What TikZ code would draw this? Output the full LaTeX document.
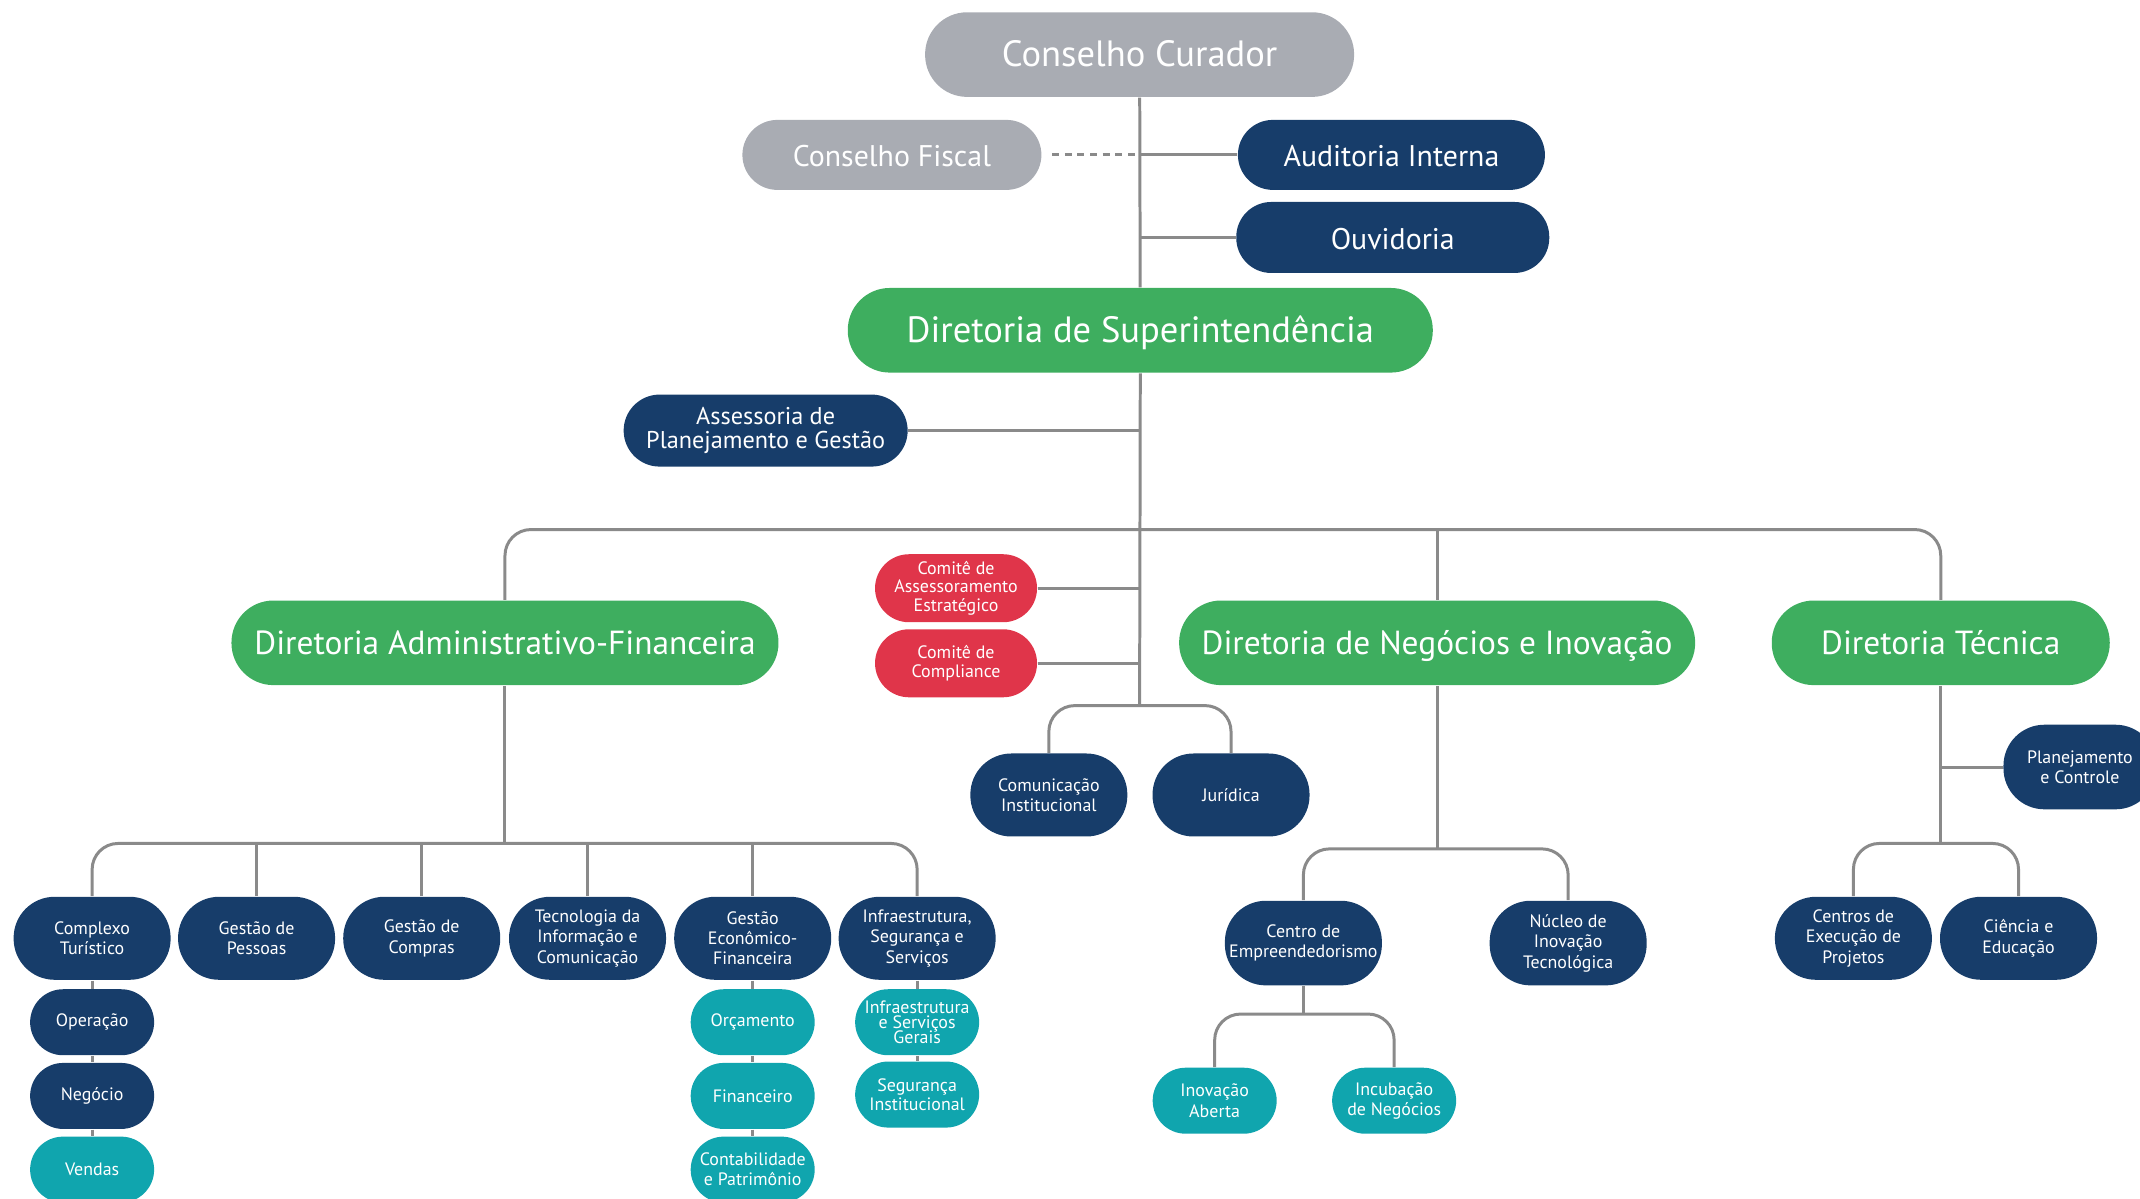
\documentclass[tikz,border=0pt]{standalone}
\usepackage{fontspec}
\setmainfont{PT Sans}
\definecolor{cgray}{HTML}{A9ACB3}
\definecolor{navy}{HTML}{173D6A}
\definecolor{cgreen}{HTML}{3EAE5F}
\definecolor{cred}{HTML}{E0354A}
\definecolor{teal}{HTML}{10A5AE}
\definecolor{lgray}{HTML}{8A8A8A}
\begin{document}
\begin{tikzpicture}[x=0.13648mm, y=-0.13648mm,
    pill/.style ={rectangle, text=white, align=center, inner sep=0pt},
    lead/.style ={pill, minimum height=8.46mm, rounded corners=4.2mm, text height=0.68em, text depth=0em, font=\fontsize{10.4}{12}\selectfont},
    dir/.style ={lead, fill=cgreen, font=\fontsize{9.5}{11}\selectfont},
    side/.style ={pill, minimum height=7mm, rounded corners=3.5mm, text height=0.68em, text depth=0em, font=\fontsize{8.5}{10}\selectfont},
    apg/.style ={pill, minimum height=7.2mm, rounded corners=3.6mm, font={\fontsize{6.9}{7}\selectfont\lineskiplimit=-5pt}},
    comite/.style ={pill, fill=cred, minimum width=16.2mm, minimum height=6.8mm, rounded corners=3.4mm, font={\fontsize{5.1}{5.3}\selectfont\lineskiplimit=-5pt}},
    unit/.style ={pill, fill=navy, minimum width=15.7mm, minimum height=8.3mm, rounded corners=4.1mm, font={\fontsize{5.1}{5.8}\selectfont\lineskiplimit=-5pt}},
    sub/.style ={pill, minimum width=12.4mm, minimum height=6.6mm, rounded corners=3.3mm, font={\fontsize{5.1}{5.7}\selectfont\lineskiplimit=-5pt}},
    conn/.style ={draw=lgray, line width=0.85pt, rounded corners=2.6mm}]
   \useasboundingbox (0,0) rectangle (1568,878.5);
   % top of the chart
   \node[lead, fill=cgray, minimum width=42.9mm] (cc) at (835,40) {Conselho Curador};
   \node[side, fill=cgray, minimum width=29.9mm] (cf) at (653.5,113.5) {Conselho Fiscal};
   \node[side, fill=navy, minimum width=30.7mm] (ai) at (1019.5,113.5) {Auditoria Interna};
   \node[side, fill=navy, minimum width=31.3mm, minimum height=7.1mm] (ov) at (1020.5,174) {Ouvidoria};
   \node[lead, fill=cgreen, minimum width=58.5mm] (ds) at (835.5,242) {Diretoria de Superintendência};
   \node[apg, fill=navy, minimum width=28.4mm] (apg) at (561,315.5) {Assessoria de\\Planejamento e Gestão};
   \node[comite] (cae) at (700.5,431) {Comitê de\\Assessoramento\\Estratégico};
   \node[comite] (cco) at (700.5,486) {Comitê de\\Compliance};
   % diretorias
   \node[dir, minimum width=54.7mm] (daf) at (370,471) {Diretoria Administrativo-Financeira};
   \node[dir, minimum width=51.6mm] (dni) at (1053,471) {Diretoria de Negócios e Inovação};
   \node[dir, minimum width=33.8mm] (dt) at (1422,471) {Diretoria Técnica};
   \node[unit] (ci) at (768.5,582.5) {Comunicação\\Institucional};
   \node[unit] (ju) at (902,582.5) {Jurídica};
   \node[unit, minimum width=15.3mm, minimum height=8.46mm] (pc) at (1524,562) {Planejamento\\e Controle};
   % administrativo-financeira
   \node[unit] (ct) at (67.5,687.5) {Complexo\\Turístico};
   \node[unit] (gp) at (188,687.5) {Gestão de\\Pessoas};
   \node[unit] (gc) at (309,687.5) {Gestão de\\Compras};
   \node[unit] (ti) at (430.5,687.5) {Tecnologia da\\Informação e\\Comunicação};
   \node[unit] (gef) at (551.5,687.5) {Gestão\\Econômico-\\Financeira};
   \node[unit] (iss) at (672,687.5) {Infraestrutura,\\Segurança e\\Serviços};
   \node[sub, fill=navy] (op) at (67.5,749) {Operação};
   \node[sub, fill=navy] (ne) at (67.5,803) {Negócio};
   \node[sub, fill=teal] (ve) at (67.5,857) {Vendas};
   \node[sub, fill=teal] (or) at (551.5,749) {Orçamento};
   \node[sub, fill=teal] (fi) at (551.5,803) {Financeiro};
   \node[sub, fill=teal] (cp) at (551.5,857) {Contabilidade\\e Patrimônio};
   \node[sub, fill=teal, font={\fontsize{5.1}{4.3}\selectfont\lineskiplimit=-5pt}] (isg) at (672,749) {Infraestrutura\\e Serviços\\Gerais};
   \node[sub, fill=teal, font={\fontsize{5.1}{5.3}\selectfont\lineskiplimit=-5pt}] (si) at (672,802) {Segurança\\Institucional};
   % negocios e inovacao
   \node[unit, minimum height=8.46mm] (cem) at (955,691) {Centro de\\Empreendedorismo};
   \node[unit, minimum height=8.46mm] (nit) at (1149,691) {Núcleo de\\Inovação\\Tecnológica};
   \node[sub, fill=teal] (ia) at (890,806.5) {Inovação\\Aberta};
   \node[sub, fill=teal] (in) at (1021.5,806.5) {Incubação\\de Negócios};
   % tecnica
   \node[unit] (cep) at (1358,687.5) {Centros de\\Execução de\\Projetos};
   \node[unit] (ce) at (1479,687.5) {Ciência e\\Educação};
   % bus points
   \coordinate (mb) at (835,388);
   \coordinate (cb) at (835,517);
   \coordinate (ab) at (370,618);
   \coordinate (nb) at (1053,622);
   \coordinate (eb) at (955,743);
   \coordinate (tb) at (1422,618);
   % connectors
   \draw[conn] (cc) -- (ds);
   \draw[conn, dash pattern=on 2pt off 1.6pt] (cf.east) ++(1mm,0) -- (cf.east -| cc.south);
   \draw[conn] (ai.west) -- (ai.west -| cc.south);
   \draw[conn] (ov.west) -- (ov.west -| cc.south);
   \draw[conn] (ds.south) -- (cb);
   \draw[conn] (apg.east) -- (apg.east -| ds.south);
   \draw[conn] (cae.east) -- (cae.east -| ds.south);
   \draw[conn] (cco.east) -- (cco.east -| ds.south);
   \draw[conn] (daf.north) |- (mb) -| (dt.north);
   \draw[conn] (dni.north) -- (dni.north |- mb);
   \draw[conn] (ci.north) |- (cb) -| (ju.north);
   \draw[conn] (daf.south) -- (ab);
   \draw[conn] (ct.north) |- (ab) -| (iss.north);
   \draw[conn] (gp.north) -- (gp.north |- ab);
   \draw[conn] (gc.north) -- (gc.north |- ab);
   \draw[conn] (ti.north) -- (ti.north |- ab);
   \draw[conn] (gef.north) -- (gef.north |- ab);
   \draw[conn] (ct) -- (op) -- (ne) -- (ve);
   \draw[conn] (gef) -- (or) -- (fi) -- (cp);
   \draw[conn] (iss) -- (isg) -- (si);
   \draw[conn] (dni.south) -- (nb);
   \draw[conn] (cem.north) |- (nb) -| (nit.north);
   \draw[conn] (cem.south) -- (eb);
   \draw[conn] (ia.north) |- (eb) -| (in.north);
   \draw[conn] (dt.south) -- (tb);
   \draw[conn] (pc.west) -- (pc.west -| dt.south);
   \draw[conn] (cep.north) |- (tb) -| (ce.north);
\end{tikzpicture}
\end{document}
